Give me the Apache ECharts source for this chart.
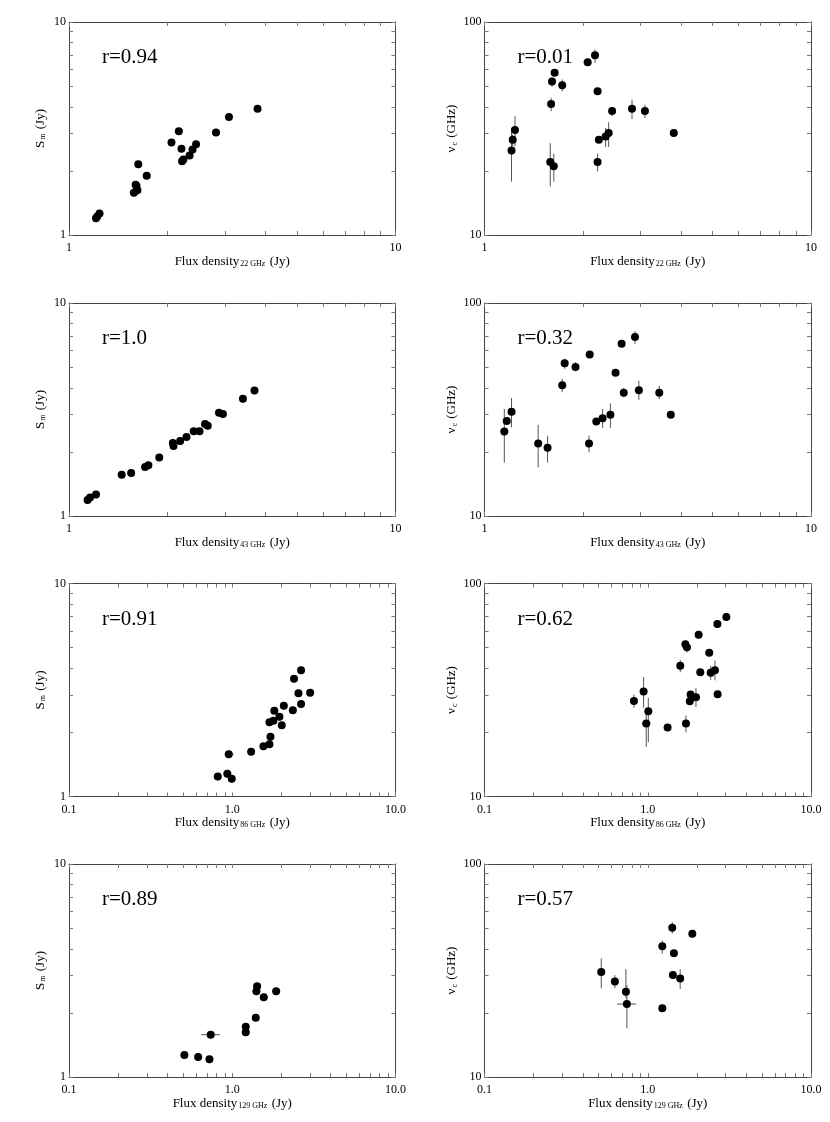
<!DOCTYPE html>
<html lang="en">
<head>
<meta charset="UTF-8">
<title>Sm and nu_c vs flux density</title>
<style>
  * { margin: 0; padding: 0; }
  #main { width: 830px; height: 1122px; background: #fff; }
</style>
</head>
<body>
<div id="main"></div>
<script src="https://cdn.jsdelivr.net/npm/echarts@6/dist/echarts.min.js"></script>
<script>
// rows: [flux density, value, errLow, errHigh]
const sm22 = [
  [1.21, 1.20, 1.15, 1.25], [1.22, 1.22, 1.17, 1.27], [1.24, 1.26, 1.21, 1.31],
  [1.58, 1.58, 1.52, 1.64], [1.60, 1.72, 1.66, 1.78], [1.61, 1.70, 1.64, 1.76],
  [1.62, 1.62, 1.56, 1.68], [1.63, 2.15, 2.07, 2.23], [1.73, 1.90, 1.83, 1.97],
  [2.06, 2.72, 2.62, 2.82], [2.17, 3.07, 2.96, 3.18], [2.21, 2.54, 2.45, 2.63],
  [2.22, 2.22, 2.13, 2.31], [2.24, 2.26, 2.18, 2.34], [2.34, 2.36, 2.27, 2.45],
  [2.39, 2.52, 2.43, 2.61], [2.45, 2.67, 2.58, 2.76], [2.82, 3.03, 2.93, 3.13],
  [3.09, 3.58, 3.46, 3.70], [3.78, 3.91, 3.79, 4.03]
]
const nu22 = [
  [1.22, 28.0, 26.1, 29.6], [1.21, 24.9, 17.8, 31.8], [1.24, 31.1, 26.1, 36.1],
  [1.59, 22.0, 16.9, 27.0], [1.63, 21.0, 17.8, 24.1], [1.60, 41.2, 38.1, 44.0],
  [1.61, 52.6, 49.6, 54.7], [1.64, 57.7, 56.5, 59.0], [1.73, 50.5, 47.3, 53.7],
  [2.07, 64.8, 63.5, 66.0], [2.18, 69.9, 64.3, 74.3], [2.22, 47.3, 46.3, 48.3],
  [2.24, 28.0, 27.3, 28.7], [2.22, 22.0, 19.9, 24.1], [2.35, 29.0, 25.9, 31.8],
  [2.40, 30.1, 25.9, 33.8], [2.46, 38.2, 36.1, 39.9], [2.83, 39.2, 35.1, 43.2],
  [3.10, 38.2, 35.4, 40.9], [3.80, 30.1, 29.4, 30.8]
]
const sm43 = [
  [1.14, 1.19, 1.14, 1.24], [1.16, 1.22, 1.17, 1.27], [1.21, 1.26, 1.21, 1.31],
  [1.45, 1.56, 1.50, 1.62], [1.55, 1.59, 1.53, 1.65], [1.71, 1.70, 1.64, 1.76],
  [1.75, 1.73, 1.67, 1.79], [1.89, 1.88, 1.81, 1.95], [2.08, 2.20, 2.12, 2.28],
  [2.09, 2.13, 2.05, 2.21], [2.19, 2.25, 2.17, 2.33], [2.29, 2.35, 2.26, 2.44],
  [2.41, 2.50, 2.41, 2.59], [2.51, 2.50, 2.41, 2.59], [2.61, 2.70, 2.60, 2.80],
  [2.66, 2.65, 2.55, 2.75], [2.88, 3.05, 2.94, 3.16], [2.96, 3.01, 2.90, 3.12],
  [3.41, 3.55, 3.42, 3.68], [3.70, 3.88, 3.74, 4.02]
]
const nu43 = [
  [1.15, 24.9, 17.8, 31.8], [1.17, 27.9, 26.8, 29.0], [1.21, 30.9, 26.1, 35.8],
  [1.46, 21.9, 16.9, 26.8], [1.56, 20.9, 17.8, 23.8], [1.73, 41.1, 38.1, 44.0],
  [1.76, 52.2, 49.1, 54.7], [1.90, 50.1, 47.8, 52.7], [2.10, 57.3, 56.0, 58.6],
  [2.09, 21.9, 19.9, 23.8], [2.20, 27.8, 27.1, 28.5], [2.30, 28.8, 25.9, 31.8],
  [2.43, 29.9, 25.9, 33.8], [2.52, 47.0, 46.0, 48.0], [2.63, 64.3, 63.0, 65.6],
  [2.67, 37.9, 36.1, 39.9], [2.89, 69.2, 64.3, 73.8], [2.97, 38.9, 35.1, 43.2],
  [3.43, 37.9, 35.4, 40.9], [3.72, 29.9, 29.2, 30.6]
]
const sm86 = [
  [0.815, 1.24, 1.19, 1.29], [0.933, 1.28, 1.23, 1.33], [0.952, 1.58, 1.52, 1.64],
  [0.993, 1.21, 1.16, 1.26], [1.305, 1.62, 1.56, 1.68], [1.553, 1.72, 1.66, 1.78],
  [1.69, 1.76, 1.69, 1.83], [1.714, 1.91, 1.84, 1.98], [1.69, 2.23, 2.15, 2.31],
  [1.787, 2.27, 2.19, 2.35], [1.81, 2.53, 2.44, 2.62], [1.945, 2.37, 2.28, 2.46],
  [2.01, 2.16, 2.08, 2.24], [2.07, 2.67, 2.58, 2.76], [2.35, 2.54, 2.45, 2.63],
  [2.39, 3.57, 3.44, 3.70], [2.545, 3.05, 2.94, 3.16], [2.64, 2.72, 2.62, 2.82],
  [2.64, 3.92, 3.78, 4.06], [3.00, 3.07, 2.96, 3.18]
]
const nu86 = [
  [0.823, 28.1, 26.1, 30.1], [0.943, 31.1, 26.1, 36.4], [1.008, 25.1, 18.0, 29.0],
  [0.979, 22.0, 17.1, 24.7], [1.323, 21.1, 20.6, 21.6], [1.582, 41.1, 38.3, 43.8],
  [1.70, 51.9, 49.7, 54.3], [1.738, 50.2, 47.4, 52.8], [1.714, 22.0, 20.0, 24.0],
  [1.81, 28.0, 27.4, 28.6], [1.83, 30.1, 29.4, 30.8], [1.974, 29.2, 26.3, 32.3],
  [2.05, 57.5, 56.3, 58.7], [2.098, 38.3, 37.5, 39.1], [2.38, 47.3, 46.3, 48.3],
  [2.43, 38.1, 35.3, 41.1], [2.58, 39.2, 35.1, 43.5], [2.68, 30.2, 29.5, 30.9],
  [2.67, 64.6, 63.3, 65.9], [3.03, 69.6, 68.2, 71.0]
]
const sm129 = [
  [0.509, 1.27, 1.22, 1.32], [0.618, 1.24, 1.19, 1.29], [0.725, 1.21, 1.16, 1.26],
  [0.738, 1.58, 1.52, 1.64], [1.21, 1.72, 1.66, 1.78], [1.21, 1.62, 1.56, 1.68],
  [1.393, 1.90, 1.83, 1.97], [1.406, 2.53, 2.44, 2.62], [1.42, 2.67, 2.58, 2.76],
  [1.56, 2.37, 2.28, 2.46], [1.857, 2.53, 2.44, 2.62]
]
const nu129 = [
  [0.519, 31.1, 26.1, 36.0], [0.629, 28.1, 26.1, 30.1], [0.735, 25.1, 23.4, 32.1],
  [0.745, 22.0, 16.9, 27.0], [1.228, 21.0, 20.5, 21.5], [1.228, 41.1, 38.0, 43.8],
  [1.413, 50.2, 47.1, 53.4], [1.446, 38.1, 37.3, 38.9], [1.426, 30.1, 29.4, 30.8],
  [1.58, 29.0, 25.9, 32.1], [1.875, 47.1, 46.1, 48.1]
]
// horizontal error bars: [flux, value, fluxLow, fluxHigh]
const sm86X = [[0.952, 1.58, 0.90, 1.02]]
const nu86X = [[0.979, 22.0, 0.92, 1.04]]
const sm129X = [[0.738, 1.58, 0.644, 0.842]]
const nu129X = [[0.745, 22.0, 0.650, 0.850]]

const rValues = ['r=0.94', 'r=0.01', 'r=1.0', 'r=0.32', 'r=0.91', 'r=0.62', 'r=0.89', 'r=0.57']
const freqs = ['22 GHz', '43 GHz', '86 GHz', '129 GHz']

const ticks1to10 = [1, 2, 3, 4, 5, 6, 7, 8, 9, 10]
const ticks10to100 = [10, 20, 30, 40, 50, 60, 70, 80, 90, 100]
const ticks01to10 = [0.1, 0.2, 0.3, 0.4, 0.5, 0.6, 0.7, 0.8, 0.9, 1, 2, 3, 4, 5, 6, 7, 8, 9, 10]
const labels1to10 = [1, 10]
const labels10to100 = [10, 100]
const labels01to10 = [0.1, 1, 10]

const panels = [
  { data: sm22, xerr: [], kind: 'sm' },
  { data: nu22, xerr: [], kind: 'nu' },
  { data: sm43, xerr: [], kind: 'sm' },
  { data: nu43, xerr: [], kind: 'nu' },
  { data: sm86, xerr: sm86X, kind: 'sm' },
  { data: nu86, xerr: nu86X, kind: 'nu' },
  { data: sm129, xerr: sm129X, kind: 'sm' },
  { data: nu129, xerr: nu129X, kind: 'nu' }
]

const FONT = 'Liberation Serif'
const rowTop = [22, 303, 583.5, 864]
const colLeft = [69, 484.5]
const gw = 326.5, gh = 213

const rich = {
  a: { fontFamily: FONT, fontSize: 13, color: '#000', lineHeight: 14, verticalAlign: 'bottom' },
  s: { fontFamily: FONT, fontSize: 8, color: '#000', lineHeight: 10, verticalAlign: 'bottom', padding: [0, 1, 0, 1] }
}

const grid = [], xAxis = [], yAxis = [], series = [], graphic = []
const tickStyle = { color: '#777', width: 1 }
const lineStyle = { color: '#444', width: 1 }

panels.forEach((p, i) => {
  const row = Math.floor(i / 2), col = i % 2
  const wide = row >= 2
  grid.push({ left: colLeft[col], top: rowTop[row], width: gw, height: gh })

  const xCommon = {
    type: 'log', logBase: 10, gridIndex: i,
    min: wide ? 0.1 : 1, max: 10,
    axisLine: { onZero: false, lineStyle },
    axisTick: { inside: true, length: 4, customValues: wide ? ticks01to10 : ticks1to10, lineStyle: tickStyle },
    splitLine: { show: false }
  }
  xAxis.push(Object.assign({}, xCommon, {
    position: 'bottom',
    axisLabel: {
      customValues: wide ? labels01to10 : labels1to10,
      formatter: v => wide ? Number(v).toFixed(1) : String(Math.round(v)),
      fontFamily: FONT, fontSize: 12, color: '#000', margin: 7
    },
    name: '{a|Flux density}{s|' + freqs[row] + '}{a| (Jy)}',
    nameLocation: 'middle', nameGap: wide ? 17 : 18,
    nameTextStyle: { rich }
  }))
  xAxis.push(Object.assign({}, xCommon, { position: 'top', axisLabel: { show: false } }))

  const nu = p.kind === 'nu'
  const yCommon = {
    type: 'log', logBase: 10, gridIndex: i,
    min: nu ? 10 : 1, max: nu ? 100 : 10,
    axisLine: { onZero: false, lineStyle },
    axisTick: { inside: true, length: 4, customValues: nu ? ticks10to100 : ticks1to10, lineStyle: tickStyle },
    splitLine: { show: false }
  }
  yAxis.push(Object.assign({}, yCommon, {
    position: 'left',
    axisLabel: {
      customValues: nu ? labels10to100 : labels1to10,
      formatter: v => String(Math.round(v)),
      fontFamily: FONT, fontSize: 12, color: '#000', margin: 3
    },
    name: nu ? '{a|ν}{s|c}{a| (GHz)}' : '{a|S}{s|m}{a| (Jy)}',
    nameLocation: 'middle', nameGap: nu ? 26 : 22,
    nameTextStyle: { rich }
  }))
  yAxis.push(Object.assign({}, yCommon, { position: 'right', axisLabel: { show: false } }))

  const xi = 2 * i, yi = 2 * i
  series.push({
    type: 'custom', xAxisIndex: xi, yAxisIndex: yi, silent: true, z: 1,
    data: p.data, encode: { x: 0, y: 1 },
    renderItem(params, api) {
      const a = api.coord([api.value(0), api.value(2)])
      const b = api.coord([api.value(0), api.value(3)])
      return { type: 'line', shape: { x1: a[0], y1: a[1], x2: b[0], y2: b[1] }, style: { stroke: '#555', lineWidth: 1 } }
    }
  })
  if (p.xerr.length) {
    series.push({
      type: 'custom', xAxisIndex: xi, yAxisIndex: yi, silent: true, z: 1,
      data: p.xerr, encode: { x: 0, y: 1 },
      renderItem(params, api) {
        const a = api.coord([api.value(2), api.value(1)])
        const b = api.coord([api.value(3), api.value(1)])
        return { type: 'line', shape: { x1: a[0], y1: a[1], x2: b[0], y2: b[1] }, style: { stroke: '#555', lineWidth: 1 } }
      }
    })
  }
  series.push({
    type: 'scatter', xAxisIndex: xi, yAxisIndex: yi, z: 3,
    data: p.data.map(d => [d[0], d[1]]),
    symbol: 'circle', symbolSize: 8,
    itemStyle: { color: '#000', opacity: 1 }
  })

  graphic.push({
    type: 'text', left: colLeft[col] + 33, top: rowTop[row] + 25,
    style: { text: rValues[i], font: '21px "' + FONT + '"', fill: '#000' }
  })
})

const chart = echarts.init(document.getElementById('main'))
chart.setOption({
  animation: false,
  backgroundColor: '#fff',
  grid, xAxis, yAxis, series, graphic
})
</script>
</body>
</html>
